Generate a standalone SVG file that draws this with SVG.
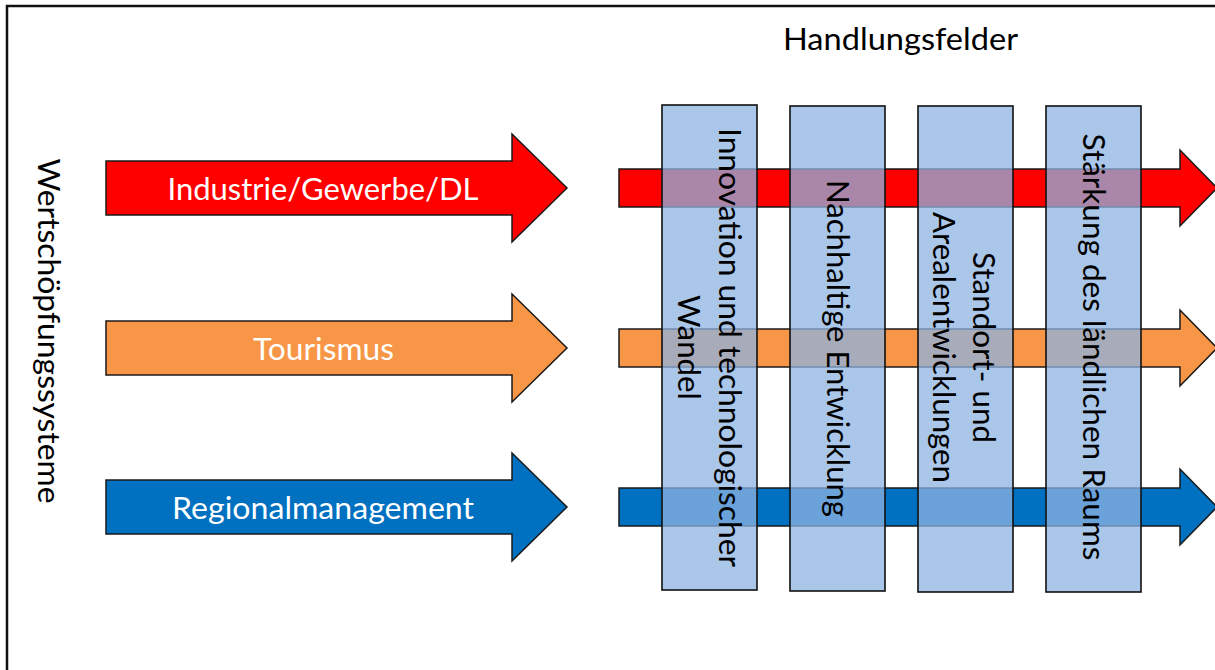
<svg xmlns="http://www.w3.org/2000/svg" width="1215" height="670" viewBox="0 0 1215 670">
<style>
.t{font-family:Lato,"Liberation Sans",sans-serif;font-size:30px;}
.w{fill:#ffffff;}
.k{fill:#000000;}
.arr{stroke:#1a1a1a;stroke-width:1.5;stroke-linejoin:miter;}
.col{fill:#8db3e2;fill-opacity:0.75;stroke:#111111;stroke-width:1.6;}
</style>
<rect x="7" y="6" width="1220" height="700" fill="#ffffff" stroke="#111111" stroke-width="2.5"/>
<text class="t k" x="900.5" y="50" text-anchor="middle" textLength="235" lengthAdjust="spacingAndGlyphs">Handlungsfelder</text>
<text class="t k" transform="translate(38,331) rotate(90)" x="0" y="0" text-anchor="middle" textLength="345" lengthAdjust="spacingAndGlyphs">Wertschöpfungssysteme</text>
<g id="connectors">
<path class="arr" fill="#ff0000" d="M619,169 L1180,169 L1180,150 L1217,188 L1180,226 L1180,207 L619,207 Z"/>
<path class="arr" fill="#f79646" d="M619,329 L1180,329 L1180,310 L1217,348 L1180,386 L1180,367 L619,367 Z"/>
<path class="arr" fill="#0070c0" d="M619,488 L1180,488 L1180,469 L1217,507 L1180,545 L1180,526 L619,526 Z"/>
</g>
<g id="sys-industrie">
<path class="arr" fill="#ff0000" d="M106,161 L512,161 L512,134 L567,188 L512,242 L512,215 L106,215 Z"/>
<text class="t w" x="323" y="200" text-anchor="middle" textLength="311" lengthAdjust="spacingAndGlyphs">Industrie/Gewerbe/DL</text>
</g>
<g id="sys-tourismus">
<path class="arr" fill="#f79646" d="M106,321 L512,321 L512,294 L567,348 L512,402 L512,375 L106,375 Z"/>
<text class="t w" x="323.5" y="360" text-anchor="middle" textLength="141" lengthAdjust="spacingAndGlyphs">Tourismus</text>
</g>
<g id="sys-regional">
<path class="arr" fill="#0070c0" d="M106,480 L512,480 L512,453 L567,507 L512,561 L512,534 L106,534 Z"/>
<text class="t w" x="323" y="519" text-anchor="middle" textLength="302" lengthAdjust="spacingAndGlyphs">Regionalmanagement</text>
</g>
<g id="feld-innovation">
<rect class="col" x="662" y="105" width="95" height="485"/>
<text class="t k" transform="translate(719,347.5) rotate(90)" text-anchor="middle" textLength="439" lengthAdjust="spacingAndGlyphs">Innovation und technologischer</text>
<text class="t k" transform="translate(678,347.5) rotate(90)" text-anchor="middle" textLength="105" lengthAdjust="spacingAndGlyphs">Wandel</text>
</g>
<g id="feld-nachhaltig">
<rect class="col" x="790" y="106" width="95" height="485"/>
<text class="t k" transform="translate(827,348.5) rotate(90)" text-anchor="middle" textLength="337" lengthAdjust="spacingAndGlyphs">Nachhaltige Entwicklung</text>
</g>
<g id="feld-standort">
<rect class="col" x="918" y="106" width="95" height="486"/>
<text class="t k" transform="translate(973,347.5) rotate(90)" text-anchor="middle" textLength="191" lengthAdjust="spacingAndGlyphs">Standort- und</text>
<text class="t k" transform="translate(933,347.5) rotate(90)" text-anchor="middle" textLength="271" lengthAdjust="spacingAndGlyphs">Arealentwicklungen</text>
</g>
<g id="feld-laendlich">
<rect class="col" x="1046" y="106" width="95" height="486"/>
<text class="t k" transform="translate(1083,347) rotate(90)" text-anchor="middle" textLength="427" lengthAdjust="spacingAndGlyphs">Stärkung des ländlichen Raums</text>
</g>
</svg>
